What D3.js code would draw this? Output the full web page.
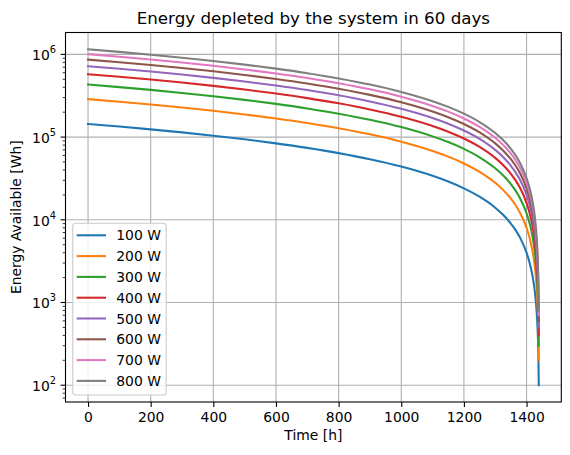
<!DOCTYPE html>
<html>
<head>
<meta charset="utf-8">
<script src="https://cdn.jsdelivr.net/npm/d3@7"></script>
<style>
  body { margin: 0; background: #fff; }
  text { font-family: "DejaVu Sans", sans-serif; fill: #000; }
</style>
</head>
<body>
<div id="chart"></div>
<script>
// hours since start
var hours = [0, 100, 200, 300, 400, 500, 600, 700, 800, 900, 1000, 1100,
  1150, 1200, 1250, 1300, 1325, 1350, 1365, 1380, 1400, 1410, 1420, 1425, 1430, 1433, 1436, 1438, 1439];

// energy left [Wh] for each load
var e100 = [144000, 134000, 124000, 114000, 104000, 94000, 84000, 74000, 64000, 54000, 44000, 34000,
  29000, 24000, 19000, 14000, 11500, 9000, 7500, 6000, 4000, 3000, 2000, 1500, 1000, 700, 400, 200, 100];
var e200 = [288000, 268000, 248000, 228000, 208000, 188000, 168000, 148000, 128000, 108000, 88000, 68000,
  58000, 48000, 38000, 28000, 23000, 18000, 15000, 12000, 8000, 6000, 4000, 3000, 2000, 1400, 800, 400, 200];
var e300 = [432000, 402000, 372000, 342000, 312000, 282000, 252000, 222000, 192000, 162000, 132000, 102000,
  87000, 72000, 57000, 42000, 34500, 27000, 22500, 18000, 12000, 9000, 6000, 4500, 3000, 2100, 1200, 600, 300];
var e400 = [576000, 536000, 496000, 456000, 416000, 376000, 336000, 296000, 256000, 216000, 176000, 136000,
  116000, 96000, 76000, 56000, 46000, 36000, 30000, 24000, 16000, 12000, 8000, 6000, 4000, 2800, 1600, 800, 400];
var e500 = [720000, 670000, 620000, 570000, 520000, 470000, 420000, 370000, 320000, 270000, 220000, 170000,
  145000, 120000, 95000, 70000, 57500, 45000, 37500, 30000, 20000, 15000, 10000, 7500, 5000, 3500, 2000, 1000, 500];
var e600 = [864000, 804000, 744000, 684000, 624000, 564000, 504000, 444000, 384000, 324000, 264000, 204000,
  174000, 144000, 114000, 84000, 69000, 54000, 45000, 36000, 24000, 18000, 12000, 9000, 6000, 4200, 2400, 1200, 600];
var e700 = [1008000, 938000, 868000, 798000, 728000, 658000, 588000, 518000, 448000, 378000, 308000, 238000,
  203000, 168000, 133000, 98000, 80500, 63000, 52500, 42000, 28000, 21000, 14000, 10500, 7000, 4900, 2800, 1400, 700];
var e800 = [1152000, 1072000, 992000, 912000, 832000, 752000, 672000, 592000, 512000, 432000, 352000, 272000,
  232000, 192000, 152000, 112000, 92000, 72000, 60000, 48000, 32000, 24000, 16000, 12000, 8000, 5600, 3200, 1600, 800];

var labels = ["100 W", "200 W", "300 W", "400 W", "500 W", "600 W", "700 W", "800 W"];
var xTicks = [0, 200, 400, 600, 800, 1000, 1200, 1400];
var yExps = [2, 3, 4, 5, 6];

var seriesList = [e100, e200, e300, e400, e500, e600, e700, e800];
var colors = ["#1f77b4", "#ff7f0e", "#2ca02c", "#d62728", "#9467bd", "#8c564b", "#e377c2", "#7f7f7f"];

var svgWidth = 570;
var svgHeight = 455;
var margin = { top: 32.5, bottom: 53, right: 8.7, left: 65.5 };
var width = svgWidth - margin.left - margin.right;
var height = svgHeight - margin.top - margin.bottom;

var svg = d3.select("#chart")
  .append("svg")
  .attr("width", svgWidth)
  .attr("height", svgHeight);

var chartGroup = svg.append("g")
  .attr("transform", `translate(${margin.left}, ${margin.top})`);

// matplotlib style 5% margins
var xMin = d3.min(hours), xMax = d3.max(hours);
var xPad = (xMax - xMin) * 0.05;
var xScale = d3.scaleLinear()
  .domain([xMin - xPad, xMax + xPad])
  .range([0, width]);

var lo = Math.log10(d3.min(e100)), hi = Math.log10(d3.max(e800));
var yPad = (hi - lo) * 0.05;
var yScale = d3.scaleLog()
  .domain([Math.pow(10, lo - yPad), Math.pow(10, hi + yPad)])
  .range([height, 0]);

// grid
chartGroup.selectAll(".xgrid")
  .data(xTicks)
  .enter()
  .append("line")
  .attr("x1", d => xScale(d))
  .attr("x2", d => xScale(d))
  .attr("y1", 0)
  .attr("y2", height)
  .attr("stroke", "#b0b0b0")
  .attr("stroke-width", 1.1);

chartGroup.selectAll(".ygrid")
  .data(yExps)
  .enter()
  .append("line")
  .attr("x1", 0)
  .attr("x2", width)
  .attr("y1", d => yScale(Math.pow(10, d)))
  .attr("y2", d => yScale(Math.pow(10, d)))
  .attr("stroke", "#b0b0b0")
  .attr("stroke-width", 1.1);

// lines
var line = d3.line()
  .x((d, i) => xScale(hours[i]))
  .y(d => yScale(d))
  .curve(d3.curveMonotoneX);

svg.append("clipPath").attr("id", "clip")
  .append("rect").attr("width", width).attr("height", height);

chartGroup.append("g")
  .attr("clip-path", "url(#clip)")
  .selectAll("path")
  .data(seriesList)
  .enter()
  .append("path")
  .attr("d", d => line(d))
  .attr("fill", "none")
  .attr("stroke", (d, i) => colors[i])
  .attr("stroke-width", 2.08)
  .attr("stroke-linejoin", "round")
  .attr("stroke-linecap", "square");

// axes
var bottomAxis = d3.axisBottom(xScale)
  .tickValues(xTicks)
  .tickFormat(d3.format("d"))
  .tickSize(4.9)
  .tickPadding(4.9);

var xAxis = chartGroup.append("g")
  .attr("transform", `translate(0, ${height})`)
  .call(bottomAxis);
xAxis.select(".domain").remove();
xAxis.selectAll("line").attr("stroke-width", 1.1);
xAxis.selectAll("text")
  .attr("font-size", "13.9px")
  .attr("font-family", "DejaVu Sans")
  .attr("dy", "0.72em");

var minorTicks = [];
yExps.concat([1]).forEach(function(e) {
  for (var k = 2; k <= 9; k++) {
    var v = k * Math.pow(10, e);
    var dom = yScale.domain();
    if (v > dom[0] && v < dom[1]) minorTicks.push(v);
  }
});

chartGroup.selectAll(".minor")
  .data(minorTicks)
  .enter()
  .append("line")
  .attr("x1", -2.8)
  .attr("x2", 0)
  .attr("y1", d => yScale(d))
  .attr("y2", d => yScale(d))
  .attr("stroke", "#000")
  .attr("stroke-width", 0.8);

chartGroup.selectAll(".major")
  .data(yExps)
  .enter()
  .append("line")
  .attr("x1", -4.9)
  .attr("x2", 0)
  .attr("y1", d => yScale(Math.pow(10, d)))
  .attr("y2", d => yScale(Math.pow(10, d)))
  .attr("stroke", "#000")
  .attr("stroke-width", 1.1);

var yLabels = chartGroup.selectAll(".ylab")
  .data(yExps)
  .enter()
  .append("text")
  .attr("text-anchor", "end")
  .attr("x", -9.5)
  .attr("y", d => yScale(Math.pow(10, d)) + 6)
  .attr("font-size", "13.9px");
yLabels.append("tspan").text("10");
yLabels.append("tspan")
  .attr("dy", -7)
  .attr("font-size", "9.8px")
  .text(d => d);

// frame
chartGroup.append("rect")
  .attr("width", width)
  .attr("height", height)
  .attr("fill", "none")
  .attr("stroke", "#000")
  .attr("stroke-width", 1.1);

// legend
var legend = chartGroup.append("g")
  .attr("transform", "translate(7.2, 190.8)");

legend.append("rect")
  .attr("width", 93.5)
  .attr("height", 171.7)
  .attr("rx", 2.8)
  .attr("fill", "#fff")
  .attr("fill-opacity", 0.8)
  .attr("stroke", "#cccccc")
  .attr("stroke-width", 1.1);

var items = legend.selectAll(".item")
  .data(labels)
  .enter()
  .append("g")
  .attr("transform", (d, i) => `translate(0, ${12 + i * 20.8})`);

items.append("line")
  .attr("x1", 4)
  .attr("x2", 33.3)
  .attr("stroke", (d, i) => colors[i])
  .attr("stroke-width", 2.08);

items.append("text")
  .attr("x", 43.5)
  .attr("y", 5)
  .attr("font-size", "13.9px")
  .text(d => d);

// titles
svg.append("text")
  .attr("x", margin.left + width / 2)
  .attr("y", 24)
  .attr("text-anchor", "middle")
  .attr("font-size", "16.7px")
  .text("Energy depleted by the system in 60 days");

svg.append("text")
  .attr("x", margin.left + width / 2)
  .attr("y", 440)
  .attr("text-anchor", "middle")
  .attr("font-size", "13.9px")
  .text("Time [h]");

svg.append("text")
  .attr("transform", `translate(21, ${margin.top + height / 2}) rotate(-90)`)
  .attr("text-anchor", "middle")
  .attr("font-size", "13.9px")
  .text("Energy Available [Wh]");
</script>
</body>
</html>
